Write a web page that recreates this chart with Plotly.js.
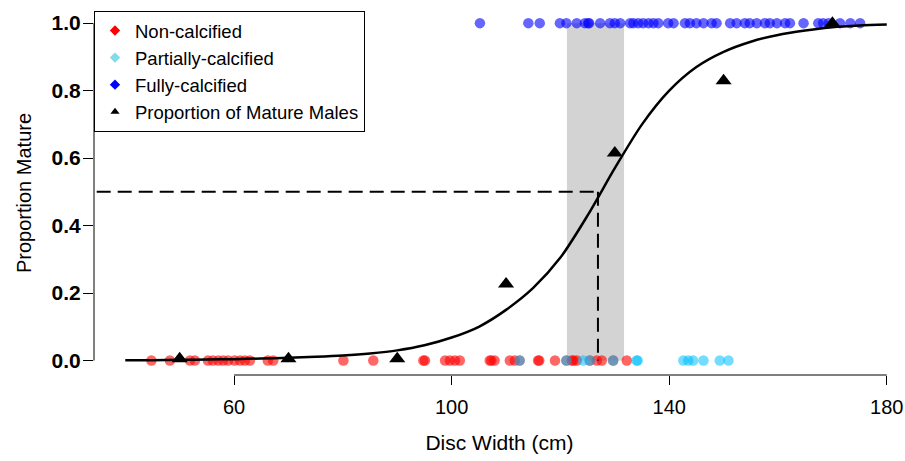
<!DOCTYPE html>
<html>
<head>
<meta charset="utf-8">
<script src="https://cdn.plot.ly/plotly-3.0.1.min.js"></script>
<style>html,body{margin:0;padding:0;background:#fff;}#chart{width:905px;height:461px;}</style>
</head>
<body>
<div id="chart"></div>
<script>
// Non-calcified (immature, y = 0)
const nonCalcX = [44.8, 48.2, 51.9, 52.8, 55.2, 56.1, 57.1, 58.0, 58.9, 60.1, 61.1, 62.0, 62.9, 66.2, 67.2, 80.1, 85.6, 94.8,
  95.1, 98.8, 99.7, 100.6, 101.5, 107.0, 107.3, 107.9, 110.7, 111.6, 112.5, 115.9, 116.1, 119.0, 121.1, 122.1, 122.4, 123.0, 125.4, 126.7, 127.6, 129.7, 132.2];
// Partially-calcified (immature, y = 0)
const partCalcX = [112.5, 121.1, 124.2, 125.4, 129.7, 134.0, 134.2, 142.6, 143.5, 144.4, 146.3, 149.3, 150.9];
// Fully-calcified (mature, y = 1)
const fullCalcX = [105.2, 114.1, 116.2, 119.9, 121.1, 123.0, 124.5, 125.1, 125.3, 127.3, 129.1, 130.0, 131.0, 132.8, 133.4, 134.3,
  135.2, 136.2, 137.1, 138.0, 139.8, 140.8, 142.9, 143.8, 145.0, 146.3, 147.8, 148.7, 151.2, 152.4, 153.9, 154.8, 156.1,
  157.6, 158.5, 159.8, 161.3, 162.2, 164.7, 167.4, 168.3, 169.3, 171.4, 173.3, 175.1];
// Proportion of mature males per size class
const propX = [50, 70, 90, 110, 130, 150, 170];
const propY = [0.005, 0.005, 0.005, 0.227, 0.615, 0.829, 1.0];
// Fitted maturity ogive
const curveX = [40, 45, 50, 55, 60, 65, 70, 75, 80, 85, 90, 95, 100, 105, 110, 115, 120, 125, 130, 135, 140, 145, 150, 155, 160, 165, 170, 175, 180];
const curveY = [0.001, 0.001, 0.002, 0.003, 0.004, 0.006, 0.008, 0.011, 0.015, 0.021, 0.03, 0.045, 0.068, 0.1, 0.15, 0.215, 0.305, 0.43, 0.57, 0.7, 0.8, 0.87, 0.915, 0.945, 0.965, 0.978, 0.988, 0.993, 0.996];
// Size at 50% maturity and its confidence interval
const L50 = 126.9;
const ciLow = 121.2;
const ciHigh = 131.7;
// Tick labels
const xTicks = [60, 100, 140, 180];
const yTicks = [0, 0.2, 0.4, 0.6, 0.8, 1.0];
const yTickText = ['0.0', '0.2', '0.4', '0.6', '0.8', '1.0'];
const legendNames = ['Non-calcified', 'Partially-calcified', 'Fully-calcified', 'Proportion of Mature Males'];

const FONT = 'Liberation Sans, Arial, sans-serif';
const zeros = a => a.map(() => 0);
const ones = a => a.map(() => 1);

const traces = [
  {x: nonCalcX, y: zeros(nonCalcX), type: 'scatter', mode: 'markers', showlegend: false, hoverinfo: 'x',
   marker: {symbol: 'circle', size: 10.5, color: 'rgba(255,0,0,0.6)', line: {width: 0}}},
  {x: partCalcX, y: zeros(partCalcX), type: 'scatter', mode: 'markers', showlegend: false, hoverinfo: 'x',
   marker: {symbol: 'circle', size: 10.5, color: 'rgba(0,191,255,0.55)', line: {width: 0}}},
  {x: fullCalcX, y: ones(fullCalcX), type: 'scatter', mode: 'markers', showlegend: false, hoverinfo: 'x',
   marker: {symbol: 'circle', size: 10.5, color: 'rgba(0,0,255,0.6)', line: {width: 0}}},
  {x: curveX, y: curveY, type: 'scatter', mode: 'lines', showlegend: false,
   line: {color: '#000', width: 2.5, shape: 'spline', smoothing: 0.8}},
  {x: propX, y: propY, type: 'scatter', mode: 'markers', showlegend: false,
   marker: {symbol: 'triangle-up', size: 14, color: '#000'}},
  // legend entries
  {x: [null], y: [null], type: 'scatter', mode: 'markers', name: legendNames[0],
   marker: {symbol: 'diamond', size: 8, color: '#ff0000'}},
  {x: [null], y: [null], type: 'scatter', mode: 'markers', name: legendNames[1],
   marker: {symbol: 'diamond', size: 8, color: '#7fdce8'}},
  {x: [null], y: [null], type: 'scatter', mode: 'markers', name: legendNames[2],
   marker: {symbol: 'diamond', size: 8, color: '#0000ff'}},
  {x: [null], y: [null], type: 'scatter', mode: 'markers', name: legendNames[3],
   marker: {symbol: 'triangle-up', size: 8, color: '#000'}}
];

const layout = {
  width: 905, height: 461,
  margin: {l: 94, r: 0, t: 11, b: 86, pad: 0},
  paper_bgcolor: '#fff', plot_bgcolor: '#fff',
  font: {family: FONT, size: 18, color: '#000'},
  showlegend: true,
  legend: {x: 0, y: 1, xanchor: 'left', yanchor: 'top', bgcolor: '#fff', bordercolor: '#000', borderwidth: 1,
           font: {family: FONT, size: 18.5, color: '#000'}, tracegroupgap: 0, itemwidth: 30},
  xaxis: {range: [34.25, 183.35], showgrid: false, zeroline: false, showline: false,
          tickmode: 'array', tickvals: xTicks, ticktext: xTicks.map(String),
          ticks: 'outside', ticklen: 9, tickwidth: 1, tickcolor: '#000', ticklabelstandoff: 5,
          tickfont: {family: FONT, size: 20, color: '#000'},
          title: {text: 'Disc Width (cm)', font: {family: FONT, size: 21, color: '#000'}, standoff: 18}},
  yaxis: {range: [-0.043, 1.036], showgrid: false, zeroline: false, showline: false,
          tickmode: 'array', tickvals: yTicks, ticktext: yTickText,
          ticks: 'outside', ticklen: 10, tickwidth: 1, tickcolor: '#000', ticklabelstandoff: -2,
          tickfont: {family: FONT, size: 21, color: '#000', weight: 'bold'},
          title: {text: 'Proportion Mature', font: {family: FONT, size: 20, color: '#000'}, standoff: 14}},
  shapes: [
    {type: 'rect', xref: 'x', yref: 'y', x0: ciLow, x1: ciHigh, y0: 0, y1: 1, fillcolor: '#d3d3d3', line: {width: 0}, layer: 'below'},
    {type: 'line', xref: 'x', yref: 'paper', x0: xTicks[0], x1: xTicks[xTicks.length - 1], y0: 0, y1: 0, line: {color: '#000', width: 1}},
    {type: 'line', xref: 'paper', yref: 'y', x0: 0, x1: 0, y0: yTicks[0], y1: yTicks[yTicks.length - 1], line: {color: '#000', width: 1}},
    {type: 'line', xref: 'x', yref: 'y', x0: 0, x1: L50, y0: 0.5, y1: 0.5, line: {color: '#000', width: 2, dash: '14px,7px'}, layer: 'above'},
    {type: 'line', xref: 'x', yref: 'y', x0: L50, x1: L50, y0: 0.5, y1: 0, line: {color: '#000', width: 2, dash: '14px,7px'}, layer: 'above'}
  ]
};

Plotly.newPlot('chart', traces, layout, {displayModeBar: false, staticPlot: true});
</script>
</body>
</html>
